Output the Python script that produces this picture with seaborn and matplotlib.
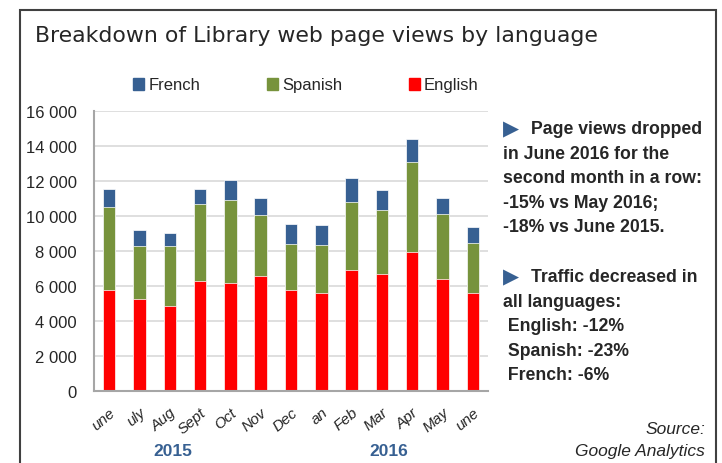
import matplotlib
matplotlib.use("Agg")
import matplotlib.pyplot as plt
import numpy as np
import pandas as pd
import seaborn as sns
from matplotlib.patches import Patch, Rectangle

sns.set_style("white")
plt.rcParams["font.family"] = ["Liberation Sans", "DejaVu Sans"]

# monthly page views, June 2015 .. June 2016 (labels clipped as in the source)
months = ["une", "uly", "Aug", "Sept", "Oct", "Nov", "Dec", "an", "Feb", "Mar", "Apr", "May", "une"]
english = [5750, 5230, 4830, 6260, 6190, 6590, 5750, 5610, 6890, 6660, 7960, 6380, 5610]
spanish = [4790, 3040, 3440, 4430, 4710, 3450, 2650, 2730, 3930, 3670, 5140, 3720, 2850]
french = [1010, 910, 760, 860, 1150, 1010, 1140, 1130, 1360, 1140, 1290, 930, 930]
years = ["2015", "2016"]
yticks = list(range(0, 16001, 2000))
ytick_labels = ["0"] + [f"{v:,}".replace(",", " ") for v in yticks[1:]]

notes_1 = ["Page views dropped", "in June 2016 for the", "second month in a row:",
           "-15% vs May 2016;", "-18% vs June 2015."]
notes_2 = ["Traffic decreased in", "all languages:", " English: -12%",
           " Spanish: -23%", " French: -6%"]

BLUE = "#376092"
GREEN = "#77933c"
RED = "#ff0000"
GRAY = "#a6a6a6"

df = pd.DataFrame({"idx": range(len(months)), "english": english,
                   "spanish": spanish, "french": french})
df["es_en"] = df["english"] + df["spanish"]
df["total"] = df["es_en"] + df["french"]

W, H = 722, 464
fig = plt.figure(figsize=(W / 100, H / 100), dpi=100)
ax = fig.add_axes([94 / W, 1 - 392 / H, 394 / W, 280 / H])

# stacked bars drawn as layered cumulative totals
for col, c in [("total", BLUE), ("es_en", GREEN), ("english", RED)]:
    sns.barplot(data=df, x="idx", y=col, color=c, saturation=1, width=0.41,
                errorbar=None, edgecolor="white", linewidth=0.5, ax=ax)

ax.set_xlim(-0.5, len(months) - 0.5)
ax.set_ylim(0, 16000)
ax.set_yticks(yticks)
ax.set_yticklabels(ytick_labels, fontsize=12)
ax.set_xticks(range(len(months)))
ax.set_xticklabels(months, rotation=40, ha="right", rotation_mode="anchor",
                   fontsize=11, style="italic")
ax.set_xticks(np.arange(-0.5, len(months)), minor=True)
ax.tick_params(axis="x", which="major", length=0, pad=10)
ax.tick_params(axis="x", which="minor", length=4, width=1.2, color=GRAY, direction="out")
ax.tick_params(axis="y", length=4.5, width=1.2, color=GRAY, direction="out", pad=8)
ax.set_xlabel("")
ax.set_ylabel("")
ax.yaxis.grid(True, color="#d9d9d9", linewidth=1.2)
ax.set_axisbelow(True)
for s in ["top", "right"]:
    ax.spines[s].set_visible(False)
for s in ["left", "bottom"]:
    ax.spines[s].set_color(GRAY)
    ax.spines[s].set_linewidth(1.5)

# legend
handles = [Patch(color=BLUE, label="French"), Patch(color=GREEN, label="Spanish"),
           Patch(color=RED, label="English")]
fig.legend(handles=handles, ncol=3, loc="center", bbox_to_anchor=(306 / W, 1 - 86 / H),
           frameon=False, fontsize=12, handlelength=0.66, handleheight=0.7,
           handletextpad=0.25, columnspacing=4.0)

# frame round the whole chart
fig.patches.append(Rectangle((20 / W, -0.02), 696 / W, 1.02 - 11 / H, transform=fig.transFigure,
                             fill=False, edgecolor="#404040", linewidth=1.5))

fig.text(35 / W, 1 - 42 / H, "Breakdown of Library web page views by language",
         fontsize=15.8, family="DejaVu Sans", color="#262626", va="baseline")

fig.text(173 / W, 1 - 452 / H, years[0], fontsize=12.5, weight="bold", color=BLUE,
         ha="center", va="center")
fig.text(389 / W, 1 - 452 / H, years[1], fontsize=12.5, weight="bold", color=BLUE,
         ha="center", va="center")

fig.text(705 / W, 1 - 430 / H, "Source:", fontsize=12.5, style="italic", ha="right", va="center")
fig.text(705 / W, 1 - 452 / H, "Google Analytics", fontsize=12.5, style="italic",
         ha="right", va="center")

# side notes
for block, y0 in [(notes_1, 130), (notes_2, 278)]:
    fig.text(503 / W, 1 - (y0 - 1) / H, "\u25b6", fontsize=15, color=BLUE,
             family="DejaVu Sans", va="center")
    for i, line in enumerate(block):
        x = 531 if i == 0 else 503
        fig.text(x / W, 1 - (y0 + 24.4 * i) / H, line, fontsize=12.7, weight="bold",
                 va="center")

fig.savefig("out.png", dpi=100, facecolor="white")
